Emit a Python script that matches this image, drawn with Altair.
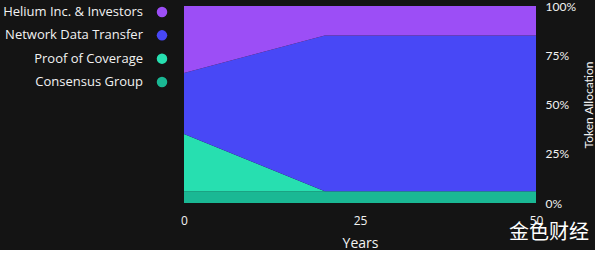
import altair as alt
import pandas as pd

years = [0, 20, 50]
series = ["Consensus Group", "Proof of Coverage", "Network Data Transfer", "Helium Inc. & Investors"]
consensus = [6, 6, 6]
poc = [29, 0, 0]
network = [31, 79, 79]
helium = [34, 15, 15]
colors = ["#1ab894", "#27dfb0", "#4848f6", "#9c4ef6"]
x_ticks = [0, 25, 50]
y_ticks = [0, 25, 50, 75, 100]

rows = []
for rank, (name, vals) in enumerate(zip(series, [consensus, poc, network, helium])):
    for yr, v in zip(years, vals):
        rows.append({"year": yr, "series": name, "value": v, "rank": rank})
df = pd.DataFrame(rows)

FONT = "Lato"
LEG_FONT = "Open Sans"
WHITE = "#f2f2f2"

area = alt.Chart(df).mark_area(interpolate="linear").encode(
    x=alt.X("year:Q", scale=alt.Scale(domain=[0, 50], nice=False),
            axis=alt.Axis(values=x_ticks, title="Years", grid=False, domain=False, ticks=False,
                          labelPadding=12, labelFontSize=12, titleFontSize=14, titlePadding=10,
                          labelColor=WHITE, titleColor=WHITE, titleFontWeight="normal",
                          labelFont=LEG_FONT, titleFont=LEG_FONT, labelFlush=False)),
    y=alt.Y("value:Q", stack="zero", scale=alt.Scale(domain=[0, 100], nice=False),
            axis=alt.Axis(orient="right", values=y_ticks, labelExpr="datum.value + '%'",
                          title="Token Allocation", grid=False, domain=False, ticks=False,
                          labelPadding=9, labelFontSize=12, titleFontSize=12, titlePadding=20,
                          titleAngle=270,
                          labelColor=WHITE, titleColor=WHITE, titleFontWeight="normal")),
    color=alt.Color("series:N", scale=alt.Scale(domain=series, range=colors), legend=None),
    order=alt.Order("rank:Q"),
)

wm = alt.Chart(pd.DataFrame({"t": ["金色财经"]})).mark_text(
    font="Noto Sans CJK SC", fontSize=20, color="#ffffff", align="center", baseline="middle"
).encode(x=alt.value(365), y=alt.value(227), text="t:N")

main = alt.layer(area, wm).properties(width=352, height=197)

legend_order = list(reversed(series))
leg_df = pd.DataFrame({"series": legend_order})
leg_y = alt.Y("series:N", scale=alt.Scale(domain=legend_order, range=[6, 76], padding=0), axis=None)
leg_text = alt.Chart(leg_df).mark_text(
    align="right", baseline="middle", fontSize=13, color=WHITE, font=LEG_FONT
).encode(x=alt.value(143), y=leg_y, text="series:N")
leg_pts = alt.Chart(leg_df).mark_point(filled=True, size=110, opacity=1, shape="circle").encode(
    x=alt.value(162), y=leg_y,
    color=alt.Color("series:N", scale=alt.Scale(domain=series, range=colors), legend=None),
)
legend = alt.layer(leg_text, leg_pts).properties(width=174, height=197)

chart = alt.hconcat(legend, main, spacing=10, bounds="flush").configure(
    background="#141414", font=FONT,
    padding={"left": 0, "top": 0, "right": 0, "bottom": 0},
).configure_view(stroke=None)

chart.save("out.html", embed_options={"renderer": "svg", "actions": False})
